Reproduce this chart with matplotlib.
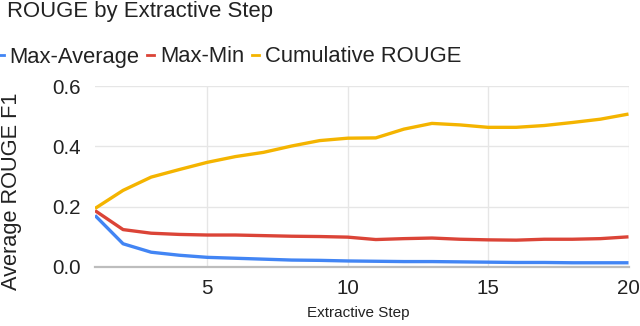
import matplotlib
matplotlib.use("Agg")
import matplotlib.pyplot as plt
from matplotlib.lines import Line2D

steps = list(range(1, 21))
max_average = [0.171, 0.077, 0.049, 0.039, 0.032, 0.029, 0.026, 0.023, 0.022, 0.020,
               0.019, 0.018, 0.018, 0.017, 0.016, 0.015, 0.015, 0.014, 0.014, 0.014]
max_min = [0.187, 0.124, 0.112, 0.108, 0.106, 0.106, 0.104, 0.102, 0.101, 0.099,
           0.091, 0.094, 0.096, 0.092, 0.090, 0.089, 0.092, 0.092, 0.094, 0.100]
cumulative = [0.194, 0.254, 0.298, 0.323, 0.347, 0.366, 0.380, 0.401, 0.419, 0.427,
              0.428, 0.457, 0.476, 0.471, 0.463, 0.463, 0.469, 0.479, 0.490, 0.507]
series_names = ["Max-Average", "Max-Min", "Cumulative ROUGE"]
colors = ["#4285F4", "#DB4437", "#F4B400"]
x_ticks = [5, 10, 15, 20]
y_ticks = [0.0, 0.2, 0.4, 0.6]

plt.rcParams['font.family'] = ['Liberation Sans', 'DejaVu Sans']

W, H = 640, 326
fig = plt.figure(figsize=(W / 100, H / 100), dpi=100)
ax = fig.add_axes([95 / W, 1 - 267 / H, (628.5 - 95) / W, (267 - 86) / H])

for vals, name, c in zip([max_average, max_min, cumulative], series_names, colors):
    ax.plot(steps, vals, color=c, lw=2.4, label=name, solid_capstyle='butt',
            solid_joinstyle='round', zorder=3)

ax.set_xlim(1, 20)
ax.set_ylim(0, 0.6)
ax.set_xticks(x_ticks)
ax.set_yticks(y_ticks)
ax.set_yticklabels([f"{v:.1f}" for v in y_ticks])
ax.tick_params(axis='both', length=0, labelsize=14.8, colors='#222222')
ax.tick_params(axis='x', pad=9)
ax.tick_params(axis='y', pad=10)
ax.grid(True, color='#e6e6e6', lw=1.0, zorder=0)
for s in ['top', 'right', 'left']:
    ax.spines[s].set_visible(False)
ax.spines['bottom'].set_color('#bdbdbd')
ax.spines['bottom'].set_linewidth(1.6)
ax.spines['bottom'].set_zorder(2)

fig.text(7 / W, 1 - 11 / H, "ROUGE by Extractive Step", fontsize=15.9,
         ha='left', va='center', color='#222222')
fig.text(358 / W, 1 - 313 / H, "Extractive Step", fontsize=11,
         ha='center', va='center', color='#222222')
fig.text(12 / W, 1 - 191 / H, "Average ROUGE F1", fontsize=15.7, rotation=90,
         ha='center', va='center', color='#222222')

handles = [Line2D([0], [0], color=c, lw=2) for c in colors]
fig.legend(handles, series_names, loc='center left',
           bbox_to_anchor=(-3 / W, 1 - 57 / H), ncol=3, frameon=False,
           fontsize=15.8, handlelength=0.3, handletextpad=0.28,
           columnspacing=0.35, borderpad=0, borderaxespad=0,
           labelcolor='#222222')

fig.savefig("out.png", dpi=100)
